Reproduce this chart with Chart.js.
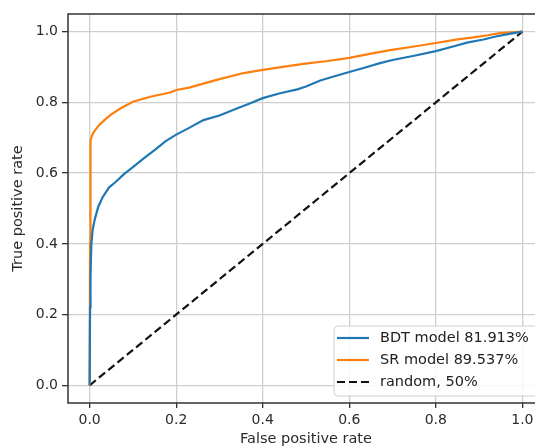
<!DOCTYPE html>
<html>
<head>
<meta charset="utf-8">
<script src="https://cdn.jsdelivr.net/npm/chart.js@4/dist/chart.umd.min.js"></script>
<style>
  html, body { margin: 0; padding: 0; background: #fff; overflow: hidden; }
  #roc { display: block; }
</style>
</head>
<body>
<canvas id="roc" width="548" height="448"></canvas>
<script>
// ROC curves, values
const bdtFpr = [0, 0.001, 0.002, 0.004, 0.007, 0.012, 0.02, 0.03, 0.045, 0.06, 0.08, 0.1, 0.125, 0.15, 0.175,
  0.2, 0.23, 0.263, 0.3, 0.34, 0.37, 0.4, 0.44, 0.48, 0.5, 0.533, 0.56, 0.6, 0.635, 0.671, 0.7, 0.75, 0.8,
  0.84, 0.872, 0.91, 0.941, 0.97, 1];
const bdtTpr = [0, 0.22, 0.31, 0.4, 0.44, 0.47, 0.505, 0.532, 0.56, 0.575, 0.598, 0.617, 0.642, 0.665, 0.69,
  0.709, 0.728, 0.75, 0.763, 0.783, 0.797, 0.812, 0.826, 0.837, 0.845, 0.862, 0.872, 0.886, 0.898, 0.911, 0.92,
  0.932, 0.945, 0.958, 0.969, 0.978, 0.987, 0.994, 1];

const srFpr = [0, 0.001, 0.002, 0.005, 0.01, 0.021, 0.036, 0.05, 0.07, 0.1, 0.14, 0.186, 0.2, 0.23, 0.263, 0.3,
  0.356, 0.4, 0.45, 0.494, 0.55, 0.6, 0.65, 0.694, 0.75, 0.8, 0.85, 0.887, 0.92, 0.948, 1];
const srTpr = [0, 0.4, 0.69, 0.705, 0.717, 0.735, 0.752, 0.766, 0.782, 0.802, 0.816, 0.828, 0.835, 0.842, 0.853,
  0.866, 0.883, 0.892, 0.901, 0.909, 0.917, 0.926, 0.938, 0.948, 0.958, 0.968, 0.978, 0.984, 0.99, 0.996, 1];

const randFpr = [0, 1];
const randTpr = [0, 1];

const seriesLabels = ["BDT model 81.913%", "SR model 89.537%", "random, 50%"];
const xTicks = [0, 0.2, 0.4, 0.6, 0.8, 1.0];
const yTicks = [0, 0.2, 0.4, 0.6, 0.8, 1.0];

const toPoints = (xs, ys) => xs.map((x, i) => ({ x: x, y: ys[i] }));

const FONT = "'DejaVu Sans', sans-serif";
const TEXT = "#2b2b2b";

// frame + legend inside the axes, matplotlib style
const framePlugin = {
  id: "frame",
  afterDatasetsDraw(chart) {
    const { ctx, chartArea: a } = chart;
    ctx.save();
    ctx.strokeStyle = "#333";
    ctx.lineWidth = 1.5;
    ctx.strokeRect(a.left, a.top, a.right - a.left, a.bottom - a.top);

    // legend box
    const w = 204, h = 70;
    const bx = a.right - 6 - w, by = a.bottom - 7 - h;
    ctx.beginPath();
    ctx.roundRect(bx, by, w, h, 4);
    ctx.fillStyle = "rgba(255,255,255,0.85)";
    ctx.fill();
    ctx.strokeStyle = "#d0d0d0";
    ctx.lineWidth = 1;
    ctx.stroke();

    ctx.font = "14.5px " + FONT;
    ctx.textBaseline = "middle";
    chart.data.datasets.forEach((ds, i) => {
      const y = by + 12 + i * 22;
      ctx.beginPath();
      ctx.setLineDash(ds.borderDash || []);
      ctx.strokeStyle = ds.borderColor;
      ctx.lineWidth = ds.borderWidth;
      ctx.moveTo(bx + 3, y);
      ctx.lineTo(bx + 35, y);
      ctx.stroke();
      ctx.setLineDash([]);
      ctx.fillStyle = "#222";
      ctx.fillText(ds.label, bx + 46, y);
    });
    ctx.restore();
  },
};

function axisOptions(ticks, titleText, isX) {
  return {
    type: "linear",
    min: -0.05,
    max: 1.05,
    afterBuildTicks: (scale) => {
      scale.ticks = ticks.map((v) => ({ value: v }));
    },
    afterFit: (scale) => {
      if (isX) scale.height = 45;
      else scale.width = 68;
    },
    grid: {
      color: "#cfcfcf",
      lineWidth: 1.3,
      tickColor: "#333",
      tickLength: isX ? 5 : 6,
      tickWidth: 1.3,
    },
    border: { display: false },
    ticks: {
      callback: (v) => Number(v).toFixed(1),
      color: TEXT,
      font: { family: FONT, size: 14 },
      padding: 4,
      maxRotation: 0,
      autoSkip: false,
    },
    title: {
      display: true,
      text: titleText,
      color: TEXT,
      font: { family: FONT, size: 14.5 },
      padding: isX ? { top: 0, bottom: 0 } : { top: 10, bottom: 0 },
    },
  };
}

const ctx = document.getElementById("roc").getContext("2d");
new Chart(ctx, {
  type: "line",
  data: {
    datasets: [
      {
        label: seriesLabels[0],
        data: toPoints(bdtFpr, bdtTpr),
        borderColor: "#1f77b4",
        borderWidth: 2.2,
      },
      {
        label: seriesLabels[1],
        data: toPoints(srFpr, srTpr),
        borderColor: "#ff7f0e",
        borderWidth: 2.2,
      },
      {
        label: seriesLabels[2],
        data: toPoints(randFpr, randTpr),
        borderColor: "#111",
        borderWidth: 2.2,
        borderDash: [8, 4],
      },
    ],
  },
  options: {
    responsive: false,
    animation: false,
    devicePixelRatio: 1,
    parsing: false,
    elements: {
      point: { radius: 0 },
      line: { tension: 0, fill: false },
    },
    layout: { padding: { top: 14, right: 4, left: 0, bottom: 0 } },
    plugins: {
      legend: { display: false },
      tooltip: { enabled: false },
    },
    scales: {
      x: axisOptions(xTicks, "False positive rate", true),
      y: axisOptions(yTicks, "True positive rate", false),
    },
  },
  plugins: [framePlugin],
});
</script>
</body>
</html>
